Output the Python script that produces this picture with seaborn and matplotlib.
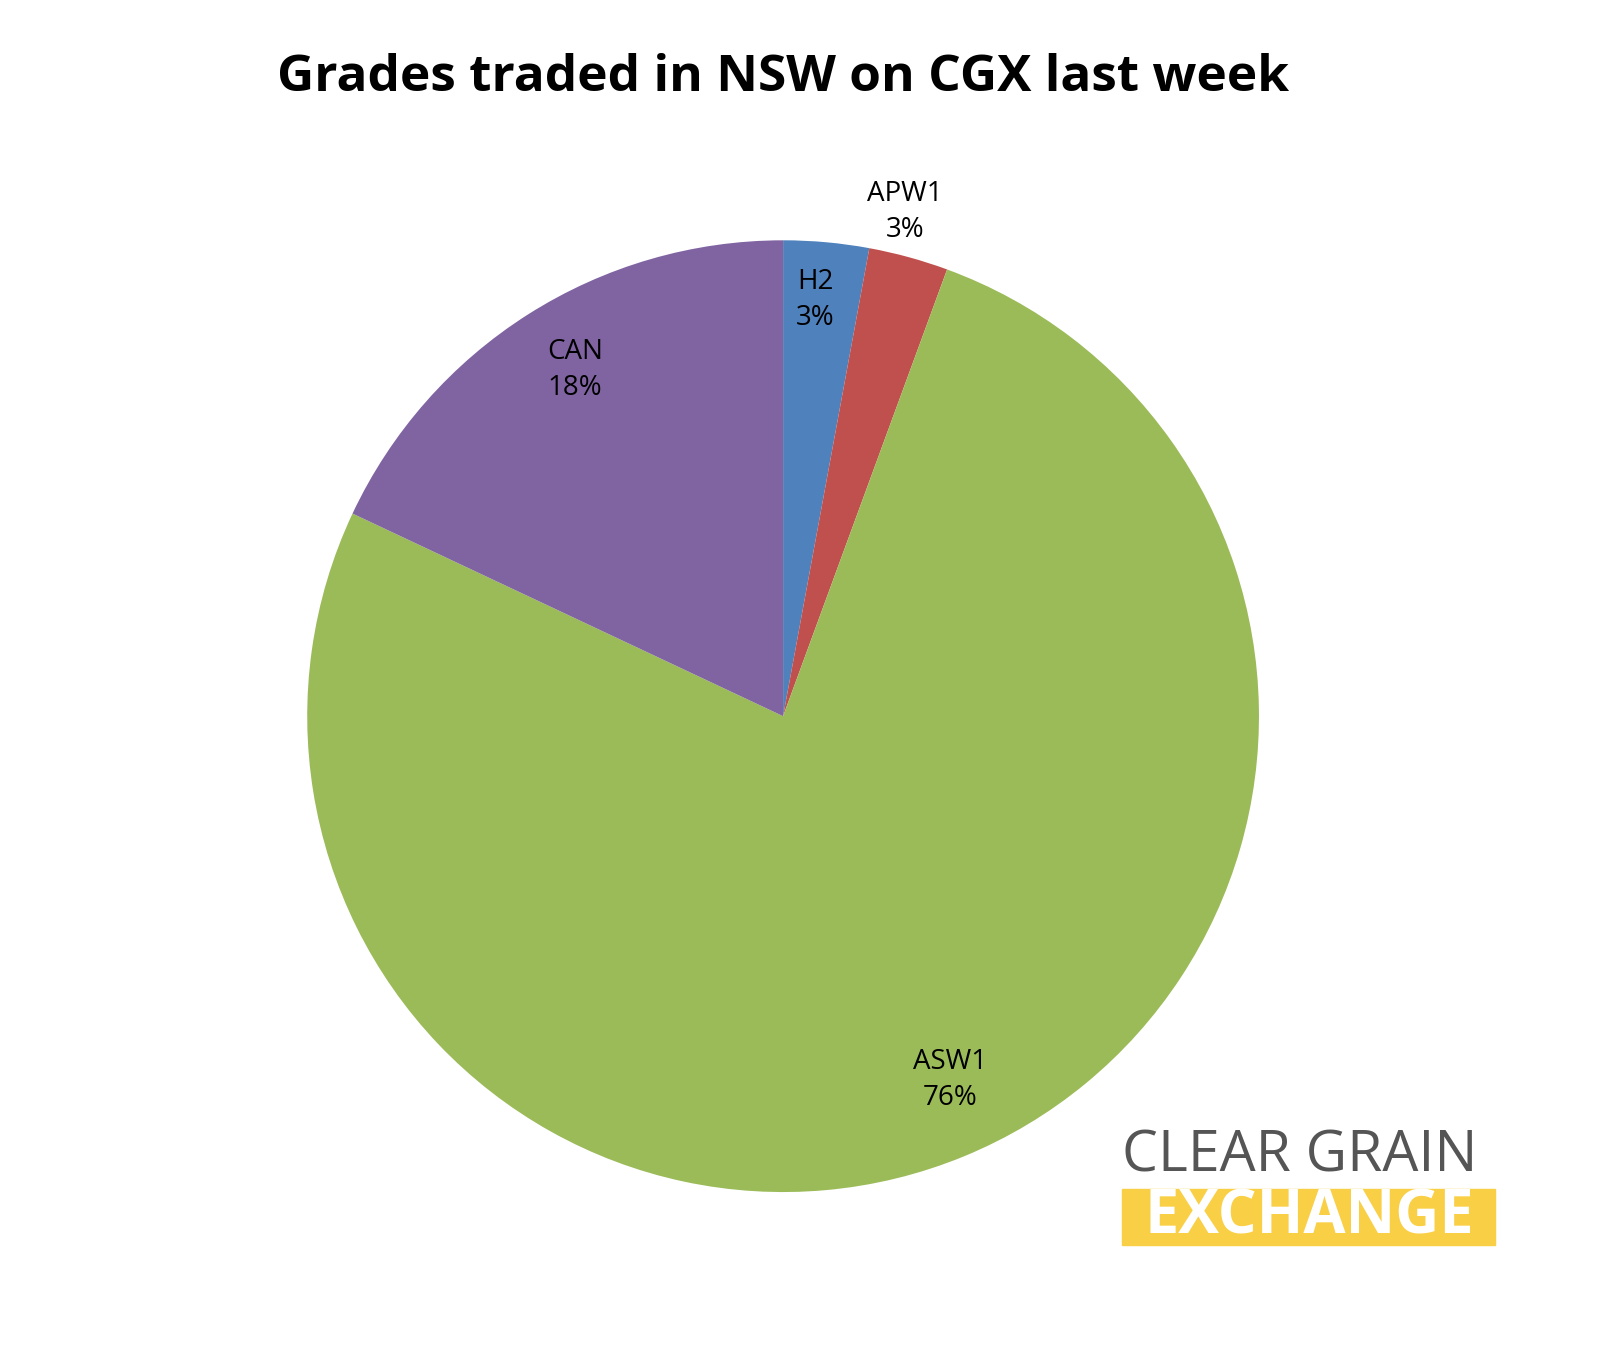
import matplotlib
matplotlib.use("Agg")
import matplotlib.pyplot as plt
import seaborn as sns

sns.set_theme(style="white")
plt.rcParams['font.family'] = ['Open Sans', 'DejaVu Sans']

grades = ["H2", "APW1", "ASW1", "CAN"]
shares = [2.9, 2.7, 76.4, 18.0]
pct_labels = ["3%", "3%", "76%", "18%"]
colors = ["#4F81BD", "#C0504D", "#9BBB59", "#8064A2"]

fig = plt.figure(figsize=(16.08, 13.5), dpi=100)
ax = fig.add_axes([0.191, 0.117, 0.592, 0.705])
ax.pie(shares, colors=colors, startangle=90, counterclock=False,
       wedgeprops=dict(linewidth=0))
ax.set_xlim(-1, 1); ax.set_ylim(-1, 1)
label_pos = [(0.067, 0.874), (0.256, 1.059), (0.351, -0.765), (-0.437, 0.727)]
for g, p, (x, y) in zip(grades, pct_labels, label_pos):
    ax.text(x, y, f"{g}\n{p}", ha="center", va="center", fontsize=20,
            color="black", linespacing=1.4)

fig.text(0.487, 0.942, "Grades traded in NSW on CGX last week", ha="center",
         va="center", fontsize=37, fontweight="bold", color="black")

# logo
fig.text(0.698, 0.143, "CLEAR GRAIN", ha="left", va="center", fontsize=41,
         color="#555555")
fig.patches.append(plt.Rectangle((0.698, 0.078), 0.232, 0.041,
                                 transform=fig.transFigure, color="#F9CF46"))
fig.text(0.814, 0.0975, "EXCHANGE", ha="center", va="center", fontsize=44,
         fontweight="bold", color="white")

fig.savefig("out.png", dpi=100)
